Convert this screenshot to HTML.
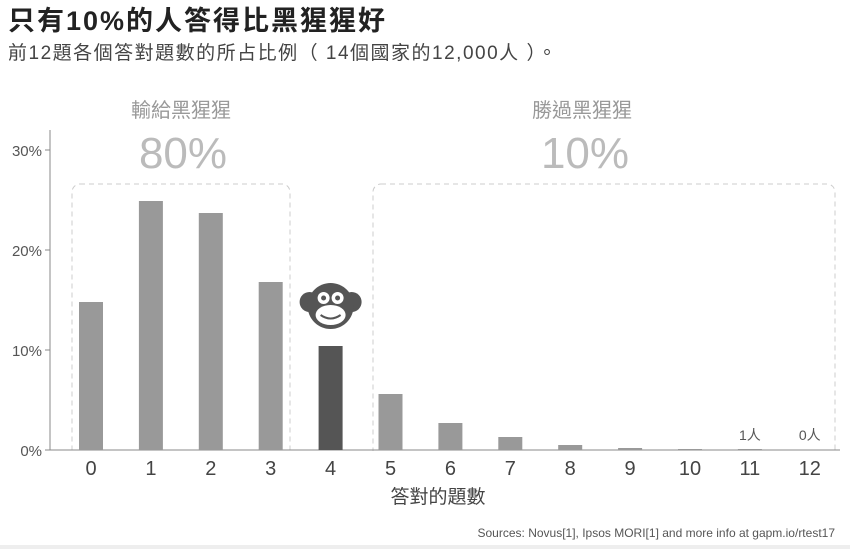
<!DOCTYPE html>
<html><head><meta charset="utf-8"><style>
body{margin:0;width:850px;height:550px;background:#fff;overflow:hidden;font-family:"Liberation Sans","Noto Sans CJK TC",sans-serif}
</style></head><body>
<svg width="850" height="550" xmlns="http://www.w3.org/2000/svg" font-family="Liberation Sans, Noto Sans CJK TC, sans-serif">
<text x="8" y="30" font-size="27" font-weight="bold" fill="#222" letter-spacing="2">只有10%的人答得比黑猩猩好</text>
<text x="8" y="59" font-size="19" fill="#444" letter-spacing="1.5">前12題各個答對題數的所占比例（ 14個國家的12,000人 ）。</text>
<g>
<rect x="72" y="184" width="218" height="280" rx="8" fill="none" stroke="#ccc" stroke-dasharray="5,4"/>
<text x="181" y="117" font-size="20" fill="#999" text-anchor="middle">輸給黑猩猩</text>
<text x="183" y="168" font-size="44" fill="#bbb" text-anchor="middle" font-weight="300">80%</text>
</g>
<g>
<rect x="373" y="184" width="462" height="280" rx="8" fill="none" stroke="#ccc" stroke-dasharray="5,4"/>
<text x="582" y="117" font-size="20" fill="#999" text-anchor="middle">勝過黑猩猩</text>
<text x="585" y="168" font-size="44" fill="#bbb" text-anchor="middle">10%</text>
</g>
<rect x="0" y="451" width="850" height="30" fill="#fff"/>
<g id="axes"></g>
<g id="bars"></g>
<text x="438" y="503" font-size="19" fill="#444" text-anchor="middle">答對的題數</text>
<text x="835" y="537" font-size="12" fill="#555" text-anchor="end">Sources: Novus[1], Ipsos MORI[1] and more info at gapm.io/rtest17</text>
<line x1="0" y1="547" x2="850" y2="547" stroke="#eee" stroke-width="4"/>
</svg>
<script>
const categories=["0","1","2","3","4","5","6","7","8","9","10","11","12"];
const values=[14.8,24.9,23.7,16.8,10.4,5.6,2.7,1.3,0.5,0.2,0.1,0.1,0];
const yTicks=[0,10,20,30];
const yTickLabels=["0%","10%","20%","30%"];
const notes={11:"1人",12:"0人"};
const NS="http://www.w3.org/2000/svg";
const x=i=>91+i*59.9, y=v=>450-v*10;
function mk(t,a,p){const e=document.createElementNS(NS,t);for(const k in a)e.setAttribute(k,a[k]);p.appendChild(e);return e;}
const ax=document.getElementById('axes'), bg=document.getElementById('bars');
const yl=mk('line',{x1:50,y1:130,x2:50,y2:450,stroke:'#888'},ax);


const xl=mk('line',{x1:50,y1:450,x2:840,y2:450,stroke:'#888'},ax);


yTicks.forEach((t,i)=>{
 mk('line',{x1:45,y1:y(t),x2:50,y2:y(t),stroke:'#888'},ax);
 const tx=mk('text',{x:42,y:y(t)+6,'font-size':15,fill:'#555','text-anchor':'end'},ax);tx.textContent=yTickLabels[i];
 
 
});
categories.forEach((c,i)=>{
 const r=mk('rect',{x:x(i)-12,y:y(values[i]),width:24,height:values[i]*10,fill:i==4?'#555':'#999'},bg);
 
 
 const t=mk('text',{x:x(i),y:475,'font-size':20,fill:'#444','text-anchor':'middle'},ax);t.textContent=c;
 
 
 if(notes[i]){const n=mk('text',{x:x(i),y:440,'font-size':14,fill:'#555','text-anchor':'middle'},ax);n.textContent=notes[i];
 
 }
});
const cx=x(4), cy=y(values[4])-38;
const g=mk('g',{},bg);


mk('circle',{cx:cx-21,cy:cy-6,r:10,fill:'#555'},g);
mk('circle',{cx:cx+21,cy:cy-6,r:10,fill:'#555'},g);
mk('circle',{cx:cx,cy:cy-2,r:23,fill:'#555'},g);
mk('ellipse',{cx:cx,cy:cy+7,rx:15,ry:10,fill:'#fff'},g);
mk('circle',{cx:cx-7,cy:cy-10,r:6,fill:'#fff'},g);
mk('circle',{cx:cx+7,cy:cy-10,r:6,fill:'#fff'},g);
mk('circle',{cx:cx-7,cy:cy-10,r:2.5,fill:'#555'},g);
mk('circle',{cx:cx+7,cy:cy-10,r:2.5,fill:'#555'},g);
mk('path',{d:`M${cx-10} ${cy+7} Q${cx} ${cy+14} ${cx+10} ${cy+7}`,stroke:'#555','stroke-width':2,fill:'none'},g);
</script>
</body></html>
